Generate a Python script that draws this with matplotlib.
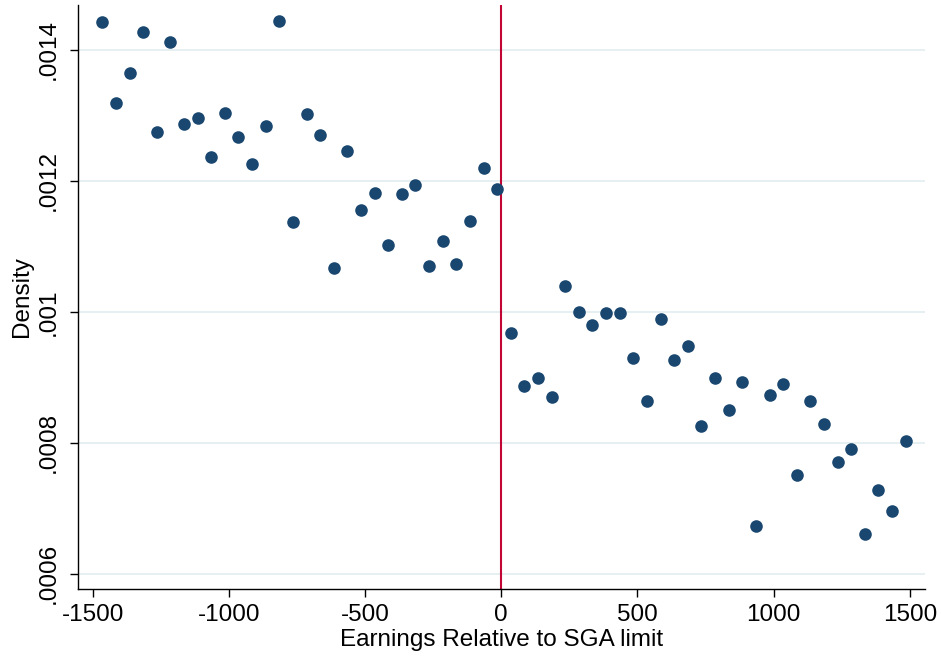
import matplotlib
matplotlib.use("Agg")
import matplotlib.pyplot as plt

# bin midpoints of earnings relative to the SGA limit
earnings = [-1465, -1415, -1365, -1315, -1265, -1215, -1165, -1115, -1065, -1015,
            -965, -915, -865, -815, -765, -715, -665, -615, -565, -515,
            -465, -415, -365, -315, -265, -215, -165, -115, -65, -15,
            35, 85, 135, 185, 235, 285, 335, 385, 435, 485,
            535, 585, 635, 685, 735, 785, 835, 885, 935, 985,
            1035, 1085, 1135, 1185, 1235, 1285, 1335, 1385, 1435, 1485]

density = [0.001443, 0.0013195, 0.0013644, 0.0014275, 0.0012748, 0.0014122,
           0.0012870, 0.0012962, 0.0012362, 0.0013038, 0.0012667, 0.0012255,
           0.0012840, 0.0014443, 0.0011374, 0.0013023, 0.0012702, 0.0010672,
           0.0012458, 0.0011557, 0.0011817, 0.0011023, 0.0011802, 0.0011939,
           0.0010702, 0.0011084, 0.0010733, 0.0011389, 0.0012198, 0.0011878,
           0.000968, 0.000887, 0.000899, 0.000870, 0.0010397, 0.0010000,
           0.0009802, 0.0009985, 0.0009985, 0.000930, 0.000864, 0.000989,
           0.000927, 0.000948, 0.000826, 0.000899, 0.000850, 0.000892,
           0.000673, 0.000873, 0.000890, 0.000751, 0.000864, 0.000829,
           0.000771, 0.000791, 0.000660, 0.000728, 0.000696, 0.000803]

x_ticks = [-1500, -1000, -500, 0, 500, 1000, 1500]
y_ticks = [0.0006, 0.0008, 0.001, 0.0012, 0.0014]
y_tick_labels = [".0006", ".0008", ".001", ".0012", ".0014"]

plt.rcParams['font.family'] = ['Liberation Sans', 'DejaVu Sans']

fig = plt.figure(figsize=(9.41, 6.6), dpi=100)
ax = fig.add_axes([0.0824, 0.1076, 0.9006, 0.885])

ax.scatter(earnings, density, s=82, color='#1a476f', zorder=3, linewidths=0)
ax.axvline(0, color='#c10534', linewidth=1.5, zorder=2)

ax.set_xlim(-1556, 1556)
ax.set_ylim(0.0005766, 0.0014687)

ax.set_xticks(x_ticks)
ax.set_xticklabels([str(t) for t in x_ticks])
ax.set_yticks(y_ticks)
ax.set_yticklabels(y_tick_labels, rotation=90, va='center')
ax.tick_params(axis='both', direction='out', length=6, width=1.0,
               labelsize=17.5, color='black')
ax.tick_params(axis='x', pad=5)
ax.tick_params(axis='y', pad=7)

ax.grid(axis='y', color='#e6eff1', linewidth=1.4, zorder=0)
ax.set_axisbelow(True)

for side in ['top', 'right']:
    ax.spines[side].set_visible(False)
for side in ['left', 'bottom']:
    ax.spines[side].set_linewidth(1.0)

ax.set_xlabel("Earnings Relative to SGA limit", fontsize=17.5, labelpad=2)
ax.set_ylabel("Density", fontsize=17.5, labelpad=3)

fig.savefig("out.png", dpi=100)
